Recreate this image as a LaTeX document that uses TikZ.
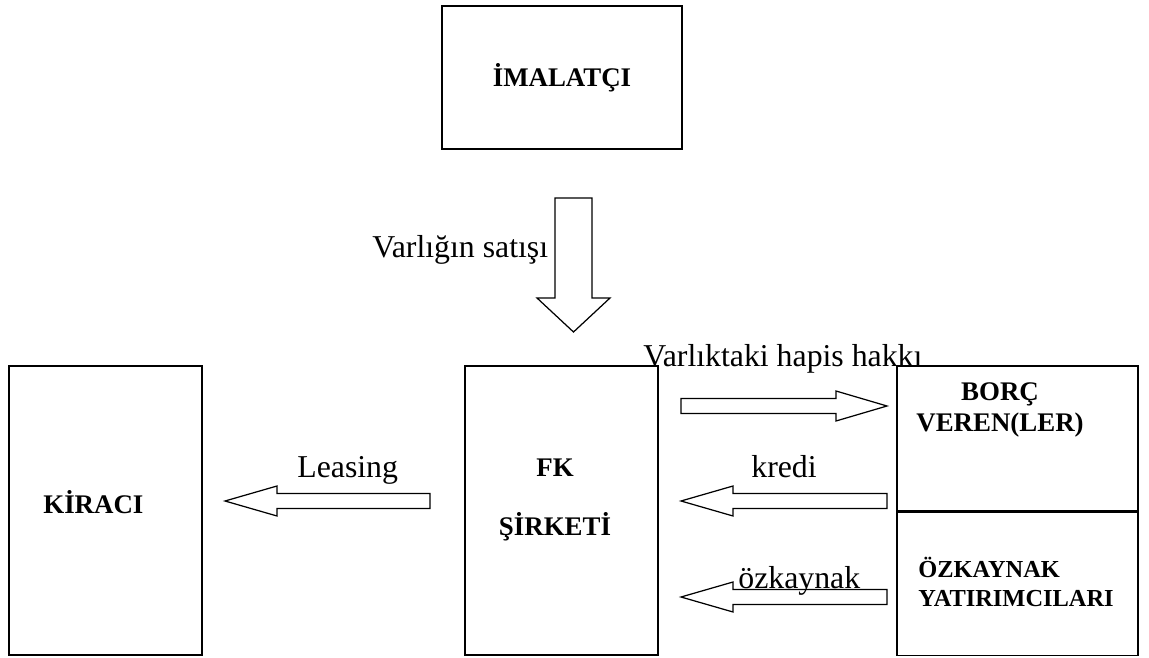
\documentclass[tikz,border=0pt]{standalone}
\usepackage{fontspec}
\setmainfont{Liberation Serif}
\usetikzlibrary{positioning, calc}

\tikzset{
  box/.style={draw, line width=0.7pt, inner sep=0pt},
  boxtxt/.style={font=\fontsize{15.3}{18}\selectfont\bfseries, inner sep=0pt},
  flowtxt/.style={font=\fontsize{18.1}{21}\selectfont, inner sep=0pt},
  blockarrow/.style={draw, line width=0.7pt, fill=white},
  % horizontal block arrows, drawn from the tip
  leftblock/.style={insert path={-- ++(52,-15) -- ++(0,7.5) -- ++(#1,0) -- ++(0,15) -- ++(-#1,0) -- ++(0,7.5) -- cycle}},
  rightblock/.style={insert path={-- ++(-51,-15) -- ++(0,7.5) -- ++(-#1,0) -- ++(0,15) -- ++(#1,0) -- ++(0,7.5) -- cycle}},
  downblock/.style={insert path={-- ++(-36.5,-34) -- ++(18,0) -- ++(0,-#1) -- ++(37,0) -- ++(0,#1) -- ++(18,0) -- cycle}}
}

\begin{document}
\begin{tikzpicture}[x=0.02cm, y=-0.02cm]
\useasboundingbox (0,0) rectangle (1149,658);

% ---- boxes ----
\node[box, boxtxt, minimum width=4.8cm, minimum height=2.86cm] (imalatci) at (562,77.5) {İMALATÇI};
\node[box, minimum width=3.86cm, minimum height=5.78cm] (kiraci) at (105.5,510.5) {};
\node[box, minimum width=3.86cm, minimum height=5.78cm] (fk) at (561.5,510.5) {};
\node[box, minimum width=4.82cm, minimum height=2.9cm] (borc) at (1017.5,438.5) {};
\node[box, minimum width=4.82cm, minimum height=2.86cm, below=0pt of borc] (ozk) {};

% ---- box texts ----
\node[boxtxt, anchor=base west] (kiracitxt) at (43,513) {KİRACI};
\node[boxtxt, align=center] (fktxt) at (555,500) {FK\\[16pt]ŞİRKETİ};
\node[boxtxt, align=center] (borctxt) at (1000,410) {BORÇ\\VEREN(LER)};
\node[boxtxt, font=\fontsize{13.9}{16}\selectfont\bfseries, align=left, anchor=west] (ozktxt) at (918,582) {ÖZKAYNAK\\YATIRIMCILARI};

% ---- arrow tips ----
\coordinate (satistip) at (573.5,332);
\coordinate (leasetip) at (225,501);
\coordinate (haptip) at (887,406);
\coordinate (kreditip) at (681,501);
\coordinate (ozktip) at (681,597);

% ---- block arrows ----
\draw[blockarrow] (satistip) [downblock=100];
\draw[blockarrow] (leasetip) [leftblock=153];
\draw[blockarrow] (haptip) [rightblock=155];
\draw[blockarrow] (kreditip) [leftblock=154];
\draw[blockarrow] (ozktip) [leftblock=154];

% ---- flow labels ----
\node[flowtxt, anchor=base west] (satislbl) at (372,258) {Varlığın satışı};
\node[flowtxt, anchor=base west] (leaselbl) at (297,477) {Leasing};
\node[flowtxt, anchor=base west] (haplbl) at (643,366) {Varlıktaki hapis hakkı};
\node[flowtxt, anchor=base west] (kredilbl) at (751,477) {kredi};
\node[flowtxt, anchor=base west] (ozklbl) at (738,588) {özkaynak};

\end{tikzpicture}
\end{document}
